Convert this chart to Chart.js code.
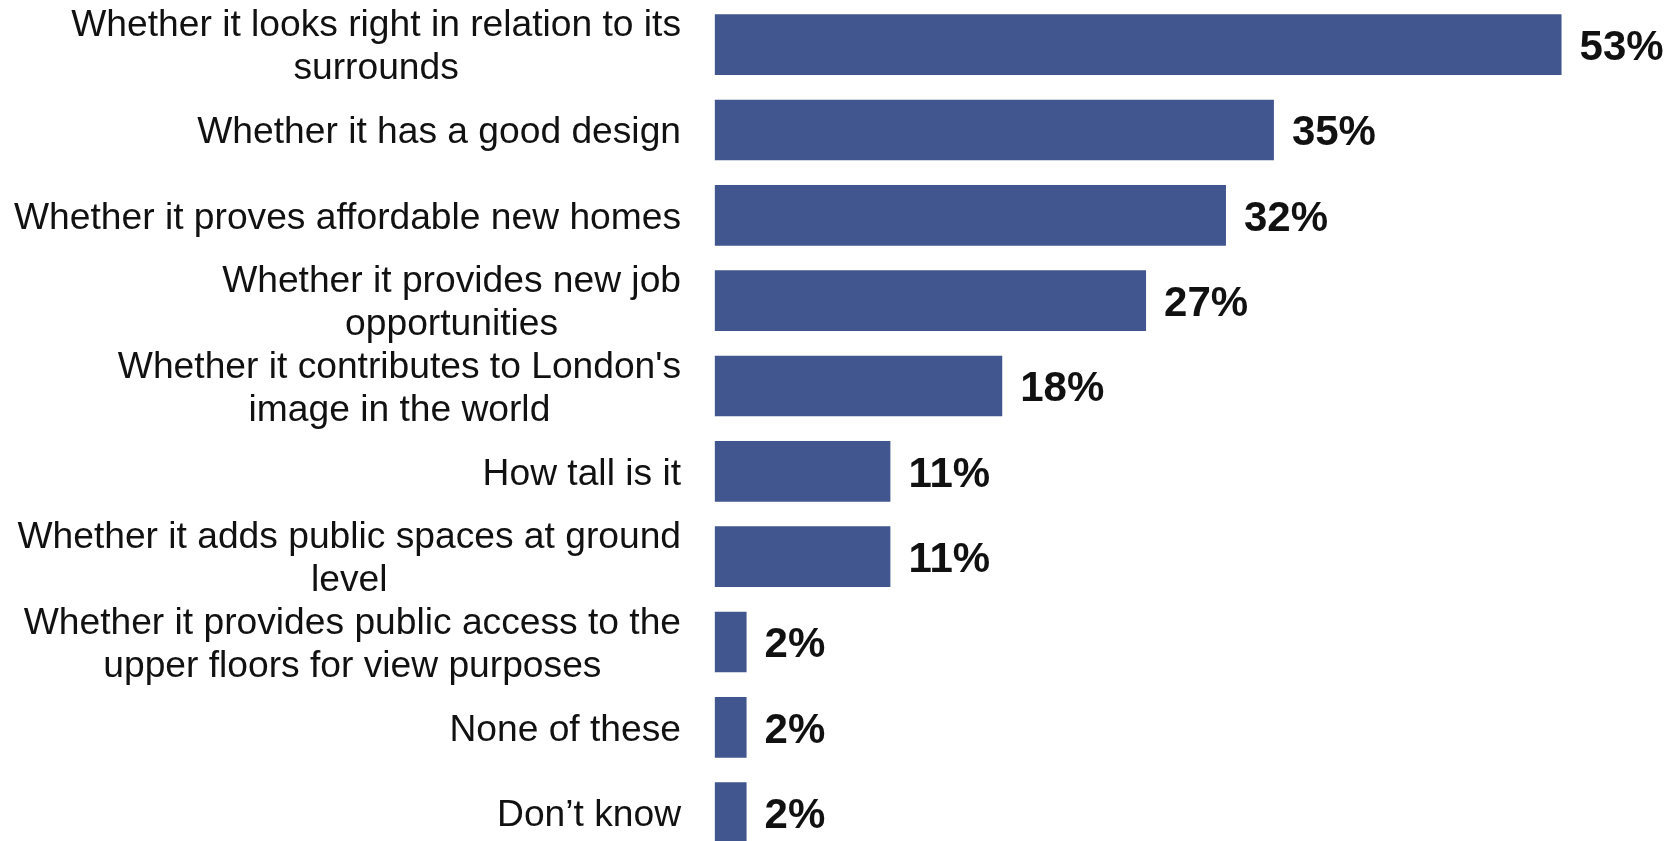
<!DOCTYPE html>
<html>
<head>
<meta charset="utf-8">
<script src="https://cdn.jsdelivr.net/npm/chart.js@4/dist/chart.umd.min.js"></script>
<style>
  html, body { margin: 0; padding: 0; background: #ffffff; overflow: hidden; }
  #wrap { position: relative; width: 1680px; height: 856px; }
</style>
</head>
<body>
<div id="wrap"><canvas id="c"></canvas></div>
<script>
const categories = [
  ["Whether it looks right in relation to its", "surrounds"],
  ["Whether it has a good design"],
  ["Whether it proves affordable new homes"],
  ["Whether it provides new job", "opportunities"],
  ["Whether it contributes to London's", "image in the world"],
  ["How tall is it"],
  ["Whether it adds public spaces at ground", "level"],
  ["Whether it provides public access to the", "upper floors for view purposes"],
  ["None of these"],
  ["Don\u2019t know"]
];
const values = [53, 35, 32, 27, 18, 11, 11, 2, 2, 2];
const valueLabels = values.map(v => v + "%");

const FONT = "'Liberation Sans', Arial, Helvetica, sans-serif";

const labelPlugin = {
  id: 'labelPlugin',
  afterDraw(chart) {
    const ctx = chart.ctx;
    const meta = chart.getDatasetMeta(0);
    const area = chart.chartArea;
    ctx.save();
    // category labels: block right-aligned, lines centered within block
    ctx.font = "37.2px " + FONT;
    ctx.fillStyle = "#111111";
    ctx.textAlign = "center";
    ctx.textBaseline = "alphabetic";
    const rightEdge = area.left - 33.6;
    const lh = 43;
    categories.forEach((lines, i) => {
      const el = meta.data[i];
      const cy = el.y;
      const maxW = Math.max(...lines.map(l => ctx.measureText(l).width));
      const cx = rightEdge - maxW / 2;
      const n = lines.length;
      lines.forEach((line, j) => {
        const y = cy + (j - (n - 1) / 2) * lh + 13.3;
        ctx.fillText(line, cx, y);
      });
    });
    // value labels
    ctx.font = "bold 42px " + FONT;
    ctx.textAlign = "left";
    ctx.fillStyle = "#111111";
    valueLabels.forEach((t, i) => {
      const el = meta.data[i];
      ctx.fillText(t, el.x + 18, el.y + 15.5);
    });
    ctx.restore();
  }
};

new Chart(document.getElementById('c'), {
  type: 'bar',
  data: {
    labels: categories,
    datasets: [{
      data: values,
      backgroundColor: '#41558F',
      borderWidth: 0,
      barPercentage: 0.711,
      categoryPercentage: 1.0
    }]
  },
  options: {
    indexAxis: 'y',
    responsive: true,
    maintainAspectRatio: false,
    animation: false,
    layout: { padding: { left: 714.6, right: 6.6, top: 2, bottom: 0.7 } },
    scales: {
      x: { display: false, min: 0, max: 60 },
      y: { display: false }
    },
    plugins: {
      legend: { display: false },
      tooltip: { enabled: false }
    }
  },
  plugins: [labelPlugin]
});
</script>
</body>
</html>
